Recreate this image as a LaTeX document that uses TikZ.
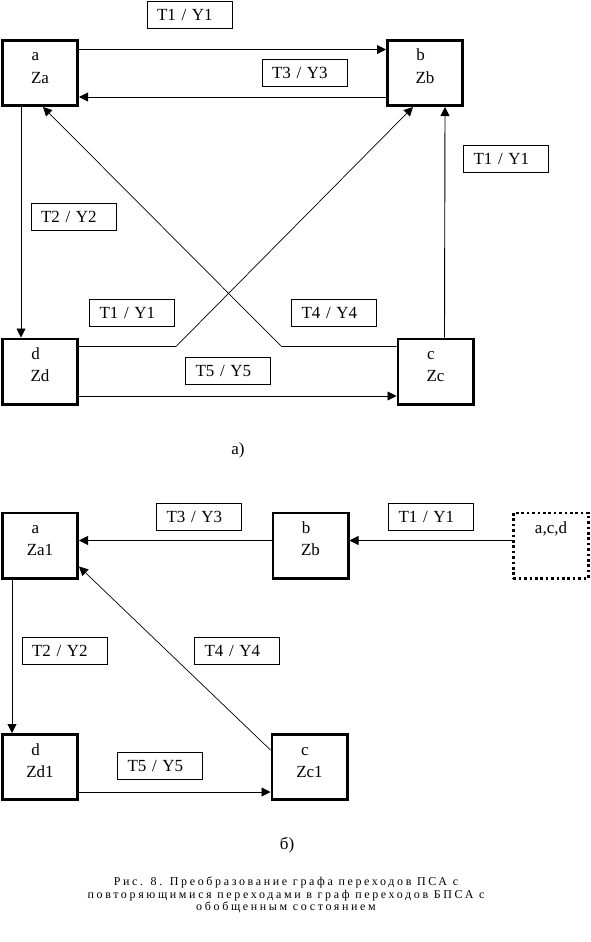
\documentclass[tikz,border=0pt]{standalone}
\usepackage{fontspec}
\setmainfont{Liberation Serif}
\newfontfamily\capfont[LetterSpace=22]{Liberation Serif}
\usetikzlibrary{arrows.meta,calc}
\newcommand{\stl}[2]{\begin{tabular}[t]{@{}c@{}}#1\kern9pt\\#2\end{tabular}}
\newcommand{\stone}[1]{\begin{tabular}[t]{@{}c@{}}#1\end{tabular}}
\begin{document}
\begin{tikzpicture}[x=1pt,y=-1pt,
  state/.style={draw, line width=2.7pt, minimum width=75.3pt, minimum height=65.3pt,
    inner sep=0pt, outer sep=1.35pt, text height=12pt, text depth=36pt,
    font=\fontsize{17}{22}\selectfont},
  gen/.style={state, dash pattern=on 2.7pt off 2.7pt},
  lab/.style={draw, line width=0.9pt, minimum height=27pt, text width=65pt, align=left,
    inner xsep=10pt, inner ysep=0pt, font=\fontsize{17}{20}\selectfont},
  arr/.style={-{Triangle[length=9pt,width=9pt]}, line width=0.9pt},
  thinarr/.style={-{Triangle[length=9pt,width=9pt]}, line width=0.7pt},
  sub/.style={font=\fontsize{17}{20}\selectfont},
  capt/.style={align=center, font=\capfont\fontsize{12}{12.7}\selectfont}]
\useasboundingbox (0,0) rectangle (590,942);

% ---- part a) ----
\node[state] (A) at (40,73) {\stl{a}{Za}};
\node[state] (B) at (425,73) {\stl{b}{Zb}};
\node[state] (D) at (40,371.5) {\stl{d}{Zd}};
\node[state] (C) at (435.5,371.5) {\stl{c}{Zc}};

\node[lab] (l1) at (189.5,15) {T1 / Y1};
\node[lab] (l2) at (304.5,72.5) {T3 / Y3};
\node[lab] (l3) at (506,159) {T1 / Y1};
\node[lab] (l4) at (73.5,217) {T2 / Y2};
\node[lab] (l5) at (132,313) {T1 / Y1};
\node[lab] (l6) at (334,313) {T4 / Y4};
\node[lab] (l7) at (228,371) {T5 / Y5};

\draw[arr] ($(A.north east)+(0,10.5)$) -- ($(B.north west)+(0,10.5)$);
\draw[arr] ($(B.south west)+(0,-10)$) -- ($(A.south east)+(0,-10)$);
\draw[arr] ($(A.south west)+(20,0)$) -- ($(D.north west)+(20,0)$);
\draw[thinarr] ($(D.north east)+(0,9)$) -- ++(97,0) -- ($(B.south west)+(27,0)$);
\draw[thinarr] ($(C.north west)+(0,9)$) -- ++(-115,0) -- ($(A.south west)+(42,0)$);
\draw[arr] ($(C.north west)+(48,0)$) -- ($(B.south west)+(59,0)$);
\draw[arr] ($(D.south east)+(0,-9.5)$) -- ($(C.south west)+(0,-9.5)$);

\node[sub] (sa) at (238,450) {a)};

% ---- part b) ----
\node[state] (A1) at (40,545.5) {\stl{a}{Za1}};
\node[state] (B1) at (310.5,545.5) {\stl{b}{Zb}};
\node[gen] (G) at (551,545.5) {\stone{a,c,d}};
\node[state] (D1) at (40,767) {\stl{d}{Zd1}};
\node[state] (C1) at (309.5,767) {\stl{c}{Zc1}};

\node[lab] (m1) at (199,516.5) {T3 / Y3};
\node[lab] (m2) at (431,516.5) {T1 / Y1};
\node[lab] (m3) at (64.5,651) {T2 / Y2};
\node[lab] (m4) at (237,651) {T4 / Y4};
\node[lab] (m5) at (160,766) {T5 / Y5};

\draw[arr] ($(B1.north west)+(0,29)$) -- ($(A1.north east)+(0,29)$);
\draw[arr] ($(G.north west)+(0,29)$) -- ($(B1.north east)+(0,29)$);
\draw[arr] ($(A1.south west)+(11,0)$) -- ($(D1.north west)+(11,0)$);
\draw[thinarr] ($(C1.north west)+(0,17)$) -- ($(A1.south east)+(0,-13)$);
\draw[arr] ($(D1.south east)+(0,-9)$) -- ($(C1.south west)+(0,-9)$);

\node[sub] (sb) at (287,845) {б)};

\node[capt] (cap) at (286,895) {Рис. 8. Преобразование графа переходов ПСА с\\
повторяющимися переходами в граф переходов БПСА с\\
обобщенным состоянием};
\end{tikzpicture}
\end{document}
